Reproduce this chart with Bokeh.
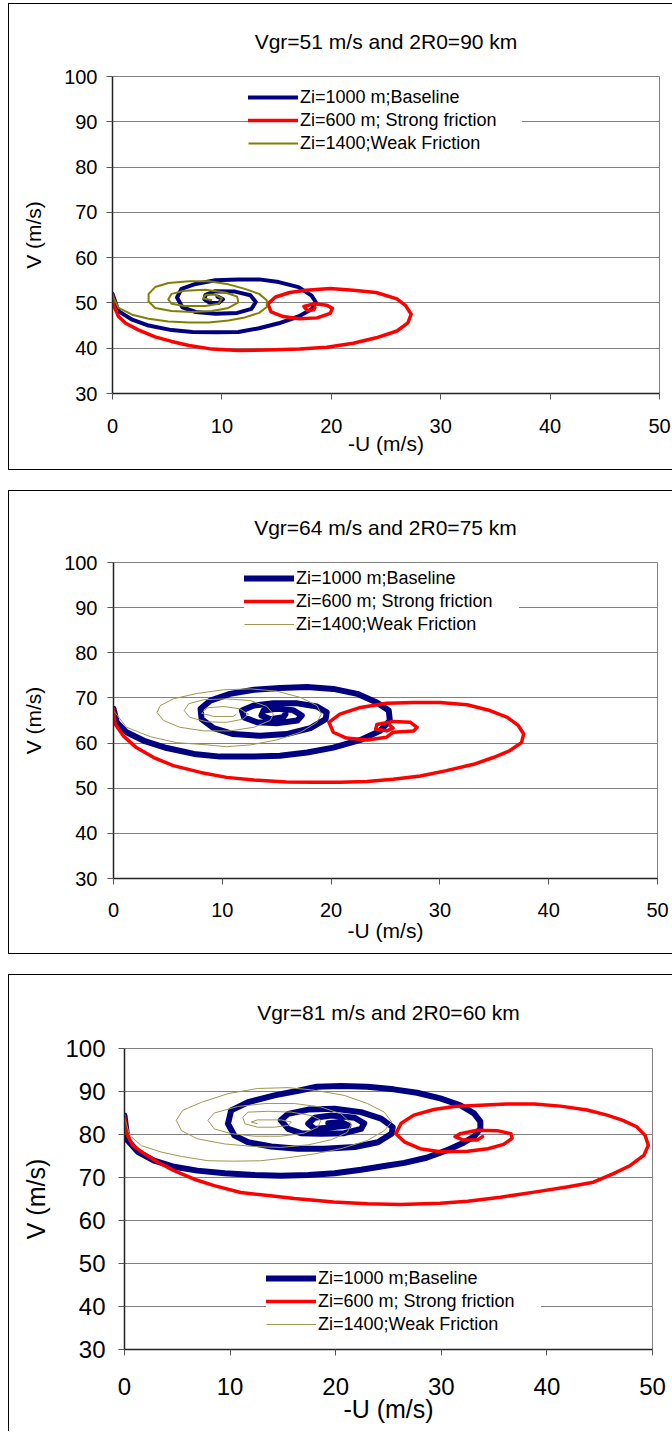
from bokeh.plotting import figure
from bokeh.models import Legend, Range1d
from bokeh.embed import file_html
from bokeh.resources import INLINE

FONT = "Liberation Sans"
BLUE = "#000080"
RED = "#FF0000"
OLIVE_THICK = "#808000"
OLIVE_THIN = "#9E9850"

X_TICKS = [0, 10, 20, 30, 40, 50]
Y_TICKS = [30, 40, 50, 60, 70, 80, 90, 100]
SERIES_NAMES = ["Zi=1000 m;Baseline", "Zi=600 m; Strong friction", "Zi=1400;Weak Friction"]
TITLES = ["Vgr=51 m/s and 2R0=90 km", "Vgr=64 m/s and 2R0=75 km", "Vgr=81 m/s and 2R0=60 km"]
X_LABEL = "-U (m/s)"
Y_LABEL = "V (m/s)"

# ---------------- Panel 1 : Vgr=51 m/s, 2R0=90 km ----------------
P1_BASE_U = [0.0, 0.55, 1.8, 3.3, 5.4, 7.3, 9.4, 11.5, 13.4, 15.2, 17.0, 18.2, 18.6, 18.2, 17.0, 15.2, 13.4,
             11.5, 9.4, 7.6, 6.3, 5.9, 6.4, 7.6, 9.4, 11.4, 12.7, 13.1, 12.6, 11.2, 9.4, 8.5, 8.4, 8.9, 9.7, 10.1,
             9.6]
P1_BASE_V = [52.0, 48.2, 46.3, 45.0, 44.0, 43.6, 43.5, 43.6, 44.4, 45.5, 47.0, 48.6, 50.1, 51.6, 53.5, 54.6, 55.2,
             55.2, 55.0, 54.2, 53.1, 51.2, 49.0, 48.0, 47.6, 47.8, 48.7, 50.2, 51.7, 52.5, 52.6, 51.8, 50.8, 50.0,
             50.0, 50.8, 51.4]
P1_STRONG_U = [0.0, 0.1, 0.55, 1.2, 2.4, 3.9, 5.4, 7.0, 9.1, 11.5, 14.1, 17.1, 19.6, 22.0, 24.1, 26.0, 27.0, 27.3,
               26.8, 26.0, 24.1, 22.0, 19.9, 17.7, 16.2, 14.9, 14.2, 14.5, 15.6, 17.1, 18.7, 19.9, 20.1, 19.6, 18.4,
               17.5, 17.8, 18.4, 18.5]
P1_STRONG_V = [52.0, 49.5, 47.0, 45.5, 44.0, 42.5, 41.5, 40.6, 39.8, 39.5, 39.6, 39.8, 40.2, 41.1, 42.3, 43.8, 45.6,
               47.5, 49.4, 50.9, 52.3, 52.8, 53.2, 52.8, 52.3, 51.3, 49.8, 48.0, 47.0, 46.5, 46.7, 47.7, 48.8, 49.5,
               49.8, 49.2, 48.3, 48.5, 49.0]
P1_WEAK_U = [0.0, 0.55, 1.8, 3.3, 5.1, 7.0, 8.8, 10.6, 12.1, 13.4, 14.1, 14.1, 13.4, 12.1, 10.6, 8.8, 7.0, 5.1, 3.9,
             3.3, 3.3, 3.9, 5.4, 7.3, 9.1, 10.6, 11.5, 11.4, 10.3, 8.5, 6.6, 5.4, 5.1, 5.4, 6.6, 8.5, 9.7, 10.0, 9.4,
             8.5, 8.3, 9.1]
P1_WEAK_V = [51.6, 48.9, 47.4, 46.5, 45.9, 45.7, 45.7, 46.1, 46.8, 47.8, 49.1, 50.6, 52.0, 53.1, 54.1, 54.8, 54.8,
             54.4, 53.5, 52.0, 50.3, 48.9, 48.2, 48.0, 48.2, 48.9, 50.1, 51.4, 52.3, 52.9, 52.7, 52.0, 50.8, 49.8,
             49.3, 49.3, 49.8, 51.0, 51.8, 51.8, 51.0, 50.6]

# ---------------- Panel 2 : Vgr=64 m/s, 2R0=75 km ----------------
P2_BASE_U = [0.0, 0.3, 1.2, 2.8, 4.9, 7.4, 9.8, 12.6, 15.3, 17.8, 20.2, 22.7, 24.5, 25.4, 25.3, 24.2, 22.4, 20.2,
             17.8, 15.3, 12.9, 10.7, 8.9, 8.0, 8.1, 9.2, 11.0, 13.5, 15.9, 18.1, 19.5, 19.6, 18.7, 16.9, 14.7, 12.9,
             11.8, 12.0, 13.2, 15.0, 16.9, 17.3, 16.5, 15.0, 13.8, 13.6, 14.4, 15.6, 15.8]
P2_BASE_V = [67.6, 64.6, 62.4, 60.5, 58.9, 57.6, 57.0, 57.0, 57.2, 57.9, 59.0, 60.7, 62.7, 65.0, 67.2, 69.0, 70.9,
             72.0, 72.4, 72.2, 71.8, 70.9, 69.4, 67.6, 65.3, 63.3, 62.0, 61.6, 62.0, 63.3, 65.3, 66.8, 68.1, 68.8,
             68.8, 68.3, 67.2, 65.7, 64.6, 64.4, 65.0, 66.1, 67.3, 67.6, 67.2, 66.1, 65.3, 65.7, 66.4]
P2_STRONG_U = [0.0, 0.15, 0.9, 2.1, 3.7, 5.5, 8.0, 10.4, 12.9, 15.9, 18.4, 20.8, 23.3, 25.7, 28.2, 30.6, 33.1, 34.9,
               36.4, 37.5, 37.7, 37.2, 36.2, 34.6, 32.5, 30.0, 27.6, 25.1, 22.7, 20.8, 19.8, 20.2, 21.4, 23.3, 25.1,
               25.7, 27.6, 27.9, 27.3, 25.7, 24.2, 24.1, 25.1, 25.7, 25.4]
P2_STRONG_V = [67.6, 64.2, 61.6, 59.0, 56.8, 55.0, 53.5, 52.4, 51.8, 51.4, 51.3, 51.3, 51.5, 52.0, 52.7, 53.9, 55.3,
               56.8, 58.3, 60.1, 62.0, 63.9, 65.7, 67.2, 68.5, 69.0, 69.0, 68.8, 67.9, 66.4, 64.6, 62.4, 61.1, 60.7,
               61.3, 62.4, 62.7, 63.5, 64.6, 64.8, 64.1, 63.1, 62.7, 63.3, 63.9]
P2_WEAK_U = [0.0, 1.2, 3.4, 5.8, 8.6, 10.4, 12.6, 15.0, 17.2, 18.7, 19.1, 18.7, 17.2, 15.0, 12.6, 10.1, 7.7, 5.5,
             4.3, 4.0, 4.6, 6.1, 8.3, 10.7, 12.9, 14.4, 14.7, 14.1, 12.6, 10.4, 8.3, 6.9, 6.5, 7.0, 8.6, 10.4, 11.9,
             12.4, 11.6, 10.1, 8.6, 8.1, 9.2, 11.0, 11.3]
P2_WEAK_V = [67.2, 63.5, 61.4, 60.1, 59.6, 59.2, 59.6, 60.7, 62.4, 64.6, 66.4, 68.3, 70.1, 71.5, 72.0, 71.8, 71.0,
             69.8, 68.3, 66.8, 65.0, 63.5, 62.7, 62.7, 63.5, 65.0, 66.4, 68.1, 69.4, 69.8, 69.6, 68.7, 67.2, 65.7,
             64.7, 64.6, 65.3, 66.4, 67.6, 68.1, 67.8, 66.6, 65.9, 65.9, 66.4]

# ---------------- Panel 3 : Vgr=81 m/s, 2R0=60 km ----------------
P3_BASE_U = [0.0, 0.3, 1.3, 2.8, 4.7, 6.9, 9.5, 12.3, 14.8, 17.4, 19.9, 22.4, 24.9, 26.5, 28.6, 30.5, 32.1, 33.1,
             33.7, 33.7, 33.1, 31.8, 29.9, 27.7, 25.5, 23.0, 20.5, 18.2, 16.7, 14.2, 11.7, 10.1, 9.8, 10.4, 11.7,
             13.9, 16.4, 18.9, 21.8, 24.0, 25.3, 25.4, 24.3, 22.4, 19.9, 17.4, 15.5, 14.8, 15.5, 16.7, 18.6, 20.8,
             22.4, 22.7, 21.8, 19.6, 18.0, 17.4, 18.0, 19.6, 21.2, 20.5, 19.3]
P3_BASE_V = [84.4, 78.6, 75.9, 73.9, 72.5, 71.6, 71.0, 70.6, 70.4, 70.6, 71.0, 71.8, 72.8, 73.4, 74.6, 76.3, 78.1,
             79.5, 81.4, 83.0, 84.9, 86.8, 88.4, 89.7, 90.5, 91.1, 91.3, 91.1, 90.3, 89.1, 87.5, 85.6, 82.5, 79.8,
             78.2, 77.2, 76.7, 76.7, 77.1, 78.2, 80.2, 81.7, 83.7, 85.2, 86.0, 85.8, 84.8, 83.3, 81.3, 80.3, 80.2,
             80.3, 81.3, 82.6, 83.9, 84.4, 83.9, 82.5, 81.3, 81.7, 82.1, 82.9, 82.6]
P3_STRONG_U = [0.0, 0.2, 0.8, 1.9, 3.2, 4.7, 6.6, 8.5, 11.0, 13.6, 16.1, 19.8, 23.0, 26.1, 29.9, 32.5, 35.6, 38.8,
               41.9, 44.4, 46.3, 47.9, 49.2, 49.6, 49.3, 48.5, 47.2, 45.7, 43.8, 41.3, 38.8, 36.2, 33.7, 31.2, 29.3,
               27.4, 26.2, 25.7, 26.5, 28.0, 29.9, 32.5, 34.4, 35.9, 36.7, 36.6, 35.3, 33.4, 31.8, 31.3, 32.1, 33.4,
               33.9]
P3_STRONG_V = [84.4, 80.2, 77.4, 75.5, 73.5, 71.6, 69.6, 68.1, 66.5, 65.8, 65.1, 64.3, 63.9, 63.7, 64.0, 64.5, 65.4,
               66.6, 67.8, 68.9, 70.9, 72.8, 75.2, 77.5, 79.8, 81.8, 83.3, 84.5, 85.7, 86.6, 87.1, 87.1, 86.8, 86.5,
               85.8, 84.5, 82.6, 80.2, 78.3, 76.7, 76.0, 76.1, 76.7, 77.7, 79.1, 80.2, 80.9, 81.0, 80.2, 79.5, 78.7,
               78.7, 79.5]
P3_WEAK_U = [0.0, 0.5, 1.6, 3.5, 5.4, 7.9, 10.4, 12.9, 15.5, 18.0, 20.5, 23.0, 24.6, 25.3, 24.6, 23.0, 20.8, 18.0,
             15.5, 12.6, 9.8, 7.3, 5.5, 4.9, 5.4, 6.9, 9.5, 12.3, 14.8, 17.4, 19.6, 21.1, 21.5, 20.5, 18.6, 16.1,
             13.3, 10.7, 8.5, 7.9, 8.5, 10.1, 12.3, 14.8, 17.0, 18.3, 18.6, 17.7, 15.8, 13.6, 11.7, 11.2, 11.4, 12.6,
             14.2, 15.5, 15.8, 14.8, 12.6, 12.0, 12.6]
P3_WEAK_V = [84.0, 79.8, 77.4, 75.9, 74.9, 73.9, 73.8, 73.9, 74.6, 75.5, 76.7, 78.6, 80.9, 82.9, 85.2, 87.2, 89.1,
             90.3, 90.9, 90.7, 89.5, 87.5, 85.6, 83.3, 80.9, 79.0, 77.8, 77.2, 77.0, 77.6, 78.8, 80.5, 82.5, 84.8,
             86.4, 87.2, 87.2, 86.5, 85.0, 83.3, 81.3, 80.2, 79.6, 79.6, 80.3, 81.7, 83.3, 84.4, 85.2, 85.4, 85.2,
             84.0, 82.5, 81.7, 81.7, 82.1, 82.9, 83.4, 83.4, 82.9, 82.5]

PANELS = [
    dict(title=TITLES[0], base=(P1_BASE_U, P1_BASE_V), strong=(P1_STRONG_U, P1_STRONG_V),
         weak=(P1_WEAK_U, P1_WEAK_V),
         fw=547, fh=317, bl=104, br=13, bt=73, bb=77,
         title_size="21px", title_standoff=46, tick_size="20px", label_size="21px",
         ystand=9, xstand=19, ylab_stand=16, xlab_stand=-4,
         wb=4, ws=3.5, ww=2, weak_color=OLIVE_THICK,
         leg_pad=8, leg_loc=(136, 239), leg_lw=222, bottom_border=True, mtop=3, gap=20),
    dict(title=TITLES[1], base=(P2_BASE_U, P2_BASE_V), strong=(P2_STRONG_U, P2_STRONG_V),
         weak=(P2_WEAK_U, P2_WEAK_V),
         fw=544, fh=316, bl=105, br=15, bt=72, bb=76,
         title_size="21px", title_standoff=46, tick_size="20px", label_size="21px",
         ystand=10, xstand=18, ylab_stand=16, xlab_stand=-1,
         wb=6, ws=3.5, ww=1, weak_color=OLIVE_THIN,
         leg_pad=4, leg_loc=(131, 243), leg_lw=223, bottom_border=True, mtop=0, gap=20),
    dict(title=TITLES[2], base=(P3_BASE_U, P3_BASE_V), strong=(P3_STRONG_U, P3_STRONG_V),
         weak=(P3_WEAK_U, P3_WEAK_V),
         fw=528, fh=301, bl=116, br=20, bt=74, bb=82,
         title_size="21px", title_standoff=48, tick_size="24px", label_size="25px",
         ystand=13, xstand=22, ylab_stand=12, xlab_stand=-3,
         wb=6, ws=3.5, ww=1, weak_color=OLIVE_THIN,
         leg_pad=3, leg_loc=(142, 14), leg_lw=223, bottom_border=False, mtop=0, gap=0),
]


def make_panel(cfg):
    p = figure(frame_width=cfg["fw"], frame_height=cfg["fh"],
               min_border_left=cfg["bl"], min_border_right=cfg["br"],
               min_border_top=cfg["bt"], min_border_bottom=cfg["bb"],
               x_range=Range1d(0, 50), y_range=Range1d(30, 100),
               output_backend="svg", toolbar_location=None, tools="")
    p.border_fill_color = None
    p.background_fill_color = "white"
    p.outline_line_color = "#808080"
    p.outline_line_width = 1

    shadows = "inset 1px 1px 0 0 #000"
    if cfg["bottom_border"]:
        shadows += ", inset 0 -1px 0 0 #000"
    p.styles = {"box-shadow": shadows,
                "margin-left": "8px",
                "margin-top": "%dpx" % cfg["mtop"],
                "margin-bottom": "%dpx" % cfg["gap"]}

    p.title.text = cfg["title"]
    p.title.align = "center"
    p.title.vertical_align = "middle"
    p.title.text_font = FONT
    p.title.text_font_size = cfg["title_size"]
    p.title.text_font_style = "normal"
    p.title.text_color = "black"
    p.title.standoff = cfg["title_standoff"]

    p.xgrid.visible = False
    p.ygrid.ticker = Y_TICKS
    p.ygrid.grid_line_color = "#808080"
    p.ygrid.grid_line_width = 1

    p.xaxis.ticker = X_TICKS
    p.yaxis.ticker = Y_TICKS
    for ax in (p.xaxis[0], p.yaxis[0]):
        ax.axis_line_color = "#222222"
        ax.axis_line_width = 1.5
        ax.major_tick_line_color = "#555555"
        ax.major_tick_out = 6
        ax.major_tick_in = 0
        ax.minor_tick_line_color = None
        ax.major_label_text_font = FONT
        ax.major_label_text_font_size = cfg["tick_size"]
        ax.major_label_text_color = "black"
        ax.axis_label_text_font = FONT
        ax.axis_label_text_font_size = cfg["label_size"]
        ax.axis_label_text_font_style = "normal"
        ax.axis_label_text_color = "black"
    p.xaxis.axis_label = X_LABEL
    p.yaxis.axis_label = Y_LABEL
    p.yaxis.major_label_standoff = cfg["ystand"]
    p.xaxis.major_label_standoff = cfg["xstand"]
    p.yaxis.axis_label_standoff = cfg["ylab_stand"]
    p.xaxis.axis_label_standoff = cfg["xlab_stand"]

    bu, bv = cfg["base"]
    su, sv = cfg["strong"]
    wu, wv = cfg["weak"]
    rb = p.line(bu, bv, line_color=BLUE, line_width=cfg["wb"], line_join="round", line_cap="round")
    rs = p.line(su, sv, line_color=RED, line_width=cfg["ws"], line_join="round", line_cap="round")
    rw = p.line(wu, wv, line_color=cfg["weak_color"], line_width=cfg["ww"], line_join="round")

    legend = Legend(items=[(SERIES_NAMES[0], [rb]), (SERIES_NAMES[1], [rs]), (SERIES_NAMES[2], [rw])],
                    location=cfg["leg_loc"])
    legend.padding = cfg["leg_pad"]
    legend.margin = 0
    legend.spacing = 1
    legend.glyph_width = 50
    legend.glyph_height = 22
    legend.label_height = 22
    legend.label_width = cfg["leg_lw"]
    legend.label_standoff = 2
    legend.label_text_font = FONT
    legend.label_text_font_size = "18px"
    legend.label_text_color = "black"
    legend.border_line_color = None
    legend.background_fill_color = "white"
    legend.background_fill_alpha = 1.0
    p.add_layout(legend)
    return p


plots = [make_panel(c) for c in PANELS]

open("out.html", "w").write(file_html(plots, INLINE))
